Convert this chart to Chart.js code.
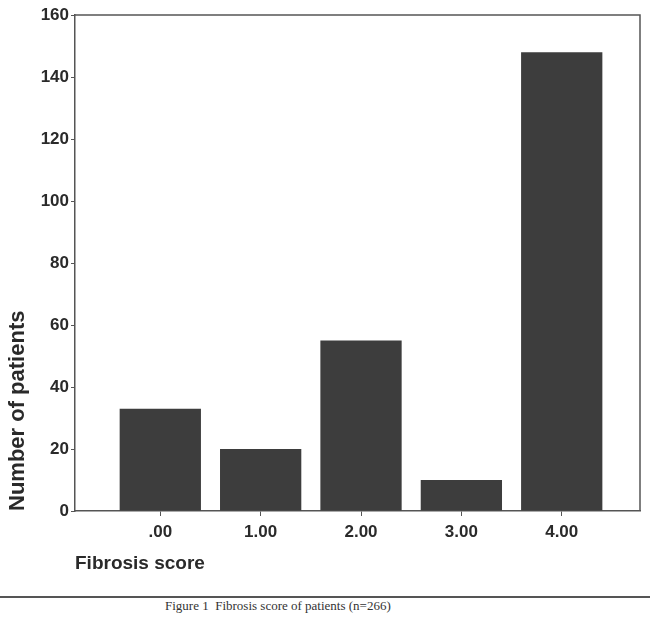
<!DOCTYPE html>
<html>
<head>
<meta charset="utf-8">
<script src="https://cdn.jsdelivr.net/npm/chart.js@4.4.1/dist/chart.umd.min.js"></script>
<style>
  body { margin: 0; background: #fff; }
  #wrap { position: relative; width: 650px; height: 595px; }
  .rule { height: 2px; background: #555; margin-top: 1px; }
  .caption { font-family: "Liberation Serif", "Times New Roman", serif; font-size: 13px;
             line-height: 16px; color: #333; padding-left: 165px; }
</style>
</head>
<body>
<div id="wrap"><canvas id="myChart"></canvas></div>
<div class="rule"></div>
<div class="caption">Figure 1&nbsp; Fibrosis score of patients (n=266)</div>
<script>
// Datos del grafico
const scoreLabels = ['.00', '1.00', '2.00', '3.00', '4.00'];
const scoreValues = [0, 1, 2, 3, 4];
const patientCounts = [33, 20, 55, 10, 148];

// marco superior y derecho del area
const framePlugin = {
    id: 'frame',
    afterDraw(chart) {
        const { ctx, chartArea } = chart;
        ctx.save();
        ctx.strokeStyle = '#555';
        ctx.lineWidth = 1.5;
        ctx.beginPath();
        ctx.moveTo(chartArea.left, chartArea.top);
        ctx.lineTo(chartArea.right, chartArea.top);
        ctx.lineTo(chartArea.right, chartArea.bottom);
        ctx.stroke();
        ctx.restore();
    }
};

const ctx = document.getElementById('myChart').getContext('2d');
new Chart(ctx, {
    type: 'bar',
    data: {
        datasets: [{
            label: 'Number of patients',
            data: scoreValues.map((x, i) => ({ x: x, y: patientCounts[i] })),
            backgroundColor: '#3d3d3d',
            borderWidth: 0,
            categoryPercentage: 1,
            barPercentage: 0.81
        }]
    },
    options: {
        responsive: true,
        maintainAspectRatio: false,
        animation: false,
        layout: { padding: { top: 15, right: 10, left: 0, bottom: 0 } },
        plugins: {
            legend: { display: false },
            tooltip: { enabled: false }
        },
        scales: {
            x: {
                type: 'linear',
                offset: false,
                min: -0.85,
                max: 4.78,
                afterBuildTicks: scale => {
                    scale.ticks = scoreValues.map(v => ({ value: v }));
                },
                afterFit: scale => { scale.height = 84; },
                grid: { offset: false, drawOnChartArea: false, drawTicks: true, tickLength: 5, color: '#555' },
                border: { display: true, color: '#555', width: 1.5 },
                ticks: {
                    padding: 6,
                    color: '#2a2a2a',
                    font: { family: 'Liberation Sans', size: 17, weight: 'bold' },
                    callback: value => scoreLabels[scoreValues.indexOf(value)]
                },
                title: {
                    display: true,
                    text: 'Fibrosis score',
                    align: 'start',
                    color: '#2a2a2a',
                    font: { family: 'Liberation Sans', size: 19, weight: 'bold' },
                    padding: { top: 4, bottom: 20 }
                }
            },
            y: {
                min: 0,
                max: 160,
                afterFit: scale => { scale.width = 75; },
                grid: { drawOnChartArea: false, drawTicks: true, tickLength: 4, color: '#555' },
                border: { display: true, color: '#555', width: 1.5 },
                ticks: {
                    stepSize: 20,
                    padding: 2,
                    color: '#2a2a2a',
                    font: { family: 'Liberation Sans', size: 17, weight: 'bold' }
                },
                title: {
                    display: true,
                    text: 'Number of patients',
                    align: 'start',
                    color: '#2a2a2a',
                    font: { family: 'Liberation Sans', size: 22, weight: 'bold' },
                    padding: { top: 5, bottom: 0 }
                }
            }
        }
    },
    plugins: [framePlugin]
});
</script>
</body>
</html>
